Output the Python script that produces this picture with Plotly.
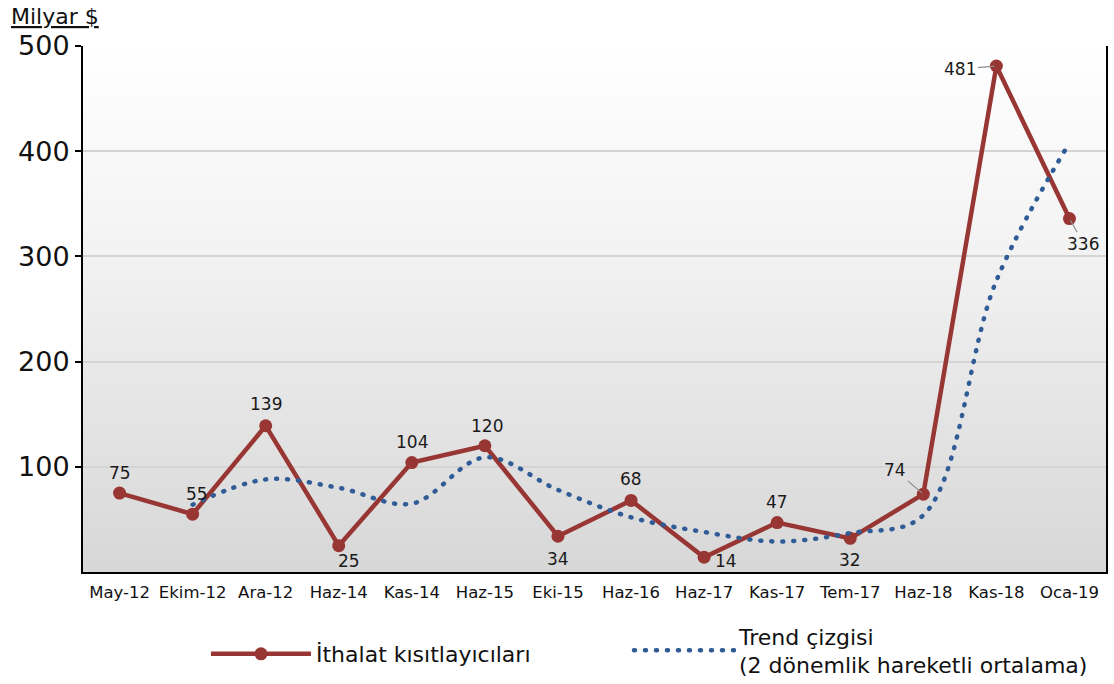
import base64
import plotly.graph_objects as go

# ---- data ----
categories = ["May-12", "Ekim-12", "Ara-12", "Haz-14", "Kas-14", "Haz-15", "Eki-15",
              "Haz-16", "Haz-17", "Kas-17", "Tem-17", "Haz-18", "Kas-18", "Oca-19"]
import_restrictions = [75, 55, 139, 25, 104, 120, 34, 68, 14, 47, 32, 74, 481, 336]
trend_categories = categories[1:]
trend_values = [64, 88, 80, 65, 109, 78, 52, 38, 29, 37, 54, 277, 408]
y_ticks = [100, 200, 300, 400, 500]

series_name = "İthalat kısıtlayıcıları"
trend_name = "Trend çizgisi<br>(2 dönemlik hareketli ortalama)"
unit_label = "Milyar $"

# label placement (pixel offsets, style only)
label_offsets = [(0, 20), (4, 20), (0, 22), (10, -15), (0, 21), (2, 20), (0, -23),
                 (0, 21), (22, -4), (0, 21), (0, -22), None, None, None]
leader_offsets = {11: (-28, -24), 12: (-36, 3), 13: (14, 25)}

RED = "#983634"
BLUE = "#2F5C97"
FONT = "DejaVu Sans, Verdana, sans-serif"

fig = go.Figure()
fig.add_trace(go.Scatter(
    x=categories, y=import_restrictions, name=series_name, mode="lines+markers",
    line=dict(color=RED, width=4.5), marker=dict(color=RED, size=13),
    hoverinfo="skip", legend="legend"))
fig.add_trace(go.Scatter(
    x=trend_categories, y=trend_values, name=trend_name, mode="lines",
    line=dict(color=BLUE, width=4.5, dash="1px,10px", shape="spline", smoothing=1.0),
    hoverinfo="skip", legend="legend2"))

annotations = []
for i, (c, v) in enumerate(zip(categories, import_restrictions)):
    if i in leader_offsets:
        ax, ay = leader_offsets[i]
        annotations.append(dict(x=c, y=v, xref="x", yref="y", text=str(v),
                                showarrow=True, arrowhead=0, arrowwidth=1.2,
                                arrowcolor="#8c8c8c", ax=ax, ay=ay, standoff=2,
                                font=dict(family=FONT, size=17, color="#1a1a1a")))
    else:
        dx, dy = label_offsets[i]
        annotations.append(dict(x=c, y=v, xref="x", yref="y", text=str(v),
                                showarrow=False, xshift=dx, yshift=dy,
                                font=dict(family=FONT, size=17, color="#1a1a1a")))
annotations.append(dict(x=-74 / 1023, y=1 + 30 / 526, xref="paper", yref="paper",
                        text="<u>" + unit_label + "</u>",
                        showarrow=False, xanchor="left", yanchor="middle",
                        font=dict(family=FONT, size=22, color="#111111")))

svg = ('<svg xmlns="http://www.w3.org/2000/svg" width="100" height="100" preserveAspectRatio="none">'
       '<defs><linearGradient id="g" x1="0" y1="0" x2="0" y2="1">'
       '<stop offset="0" stop-color="#ffffff"/><stop offset="0.35" stop-color="#f4f4f4"/>'
       '<stop offset="1" stop-color="#d7d7d7"/></linearGradient></defs>'
       '<rect width="100" height="100" fill="url(#g)"/></svg>')
bg_src = "data:image/svg+xml;base64," + base64.b64encode(svg.encode()).decode()

legend_style = dict(font=dict(family=FONT, size=22, color="#111111"),
                    itemwidth=100, bgcolor="rgba(0,0,0,0)", valign="middle",
                    orientation="h", xanchor="left", yanchor="top")

fig.update_layout(
    width=1114, height=684,
    margin=dict(l=83, r=8, t=46, b=112, autoexpand=False),
    paper_bgcolor="white", plot_bgcolor="rgba(0,0,0,0)",
    images=[dict(source=bg_src, xref="paper", yref="paper", x=0, y=1, sizex=1, sizey=1,
                 xanchor="left", yanchor="top", sizing="stretch", layer="below")],
    annotations=annotations,
    showlegend=True,
    legend=dict(x=(206 - 83) / 1023, y=-0.116, **legend_style),
    legend2=dict(x=0.5337, y=-0.0820, **legend_style),
    hovermode=False,
)
fig.update_xaxes(
    type="category", categoryorder="array", categoryarray=categories,
    range=[-0.5, len(categories) - 0.5], automargin=False,
    showline=True, linecolor="black", linewidth=2, showgrid=False, ticks="",
    ticklabelstandoff=4,
    tickfont=dict(family=FONT, size=16.5, color="#111111"), fixedrange=True)
fig.update_yaxes(
    range=[0, 500], tickvals=y_ticks, ticktext=[str(t) for t in y_ticks], automargin=False,
    showline=True, linecolor="black", linewidth=2, mirror=True,
    showgrid=True, gridcolor="#d4d4d4", gridwidth=2, zeroline=False,
    ticks="outside", ticklen=6, tickwidth=2, tickcolor="black",
    tickfont=dict(family=FONT, size=27, color="#111111"), fixedrange=True)

# round caps so the dotted trend line shows round dots, as in the original
post_js = """
document.body.style.margin='0';
var gd = document.getElementsByClassName('plotly-graph-div')[0];
function roundDots(){
  gd.querySelectorAll('path').forEach(function(p){
    var da = p.style.strokeDasharray || '';
    if (da.indexOf('10px') >= 0 || da.indexOf('10,') >= 0 || da.indexOf(' 10') >= 0) {
      p.style.strokeLinecap = 'round';
    }
  });
}
roundDots();
"""

fig.write_html("out.html", config={"displayModeBar": False}, post_script=post_js)
